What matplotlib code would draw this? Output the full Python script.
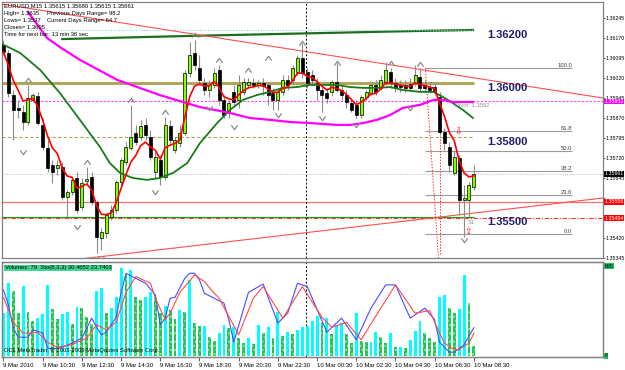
import numpy as np
import pandas as pd
import matplotlib
matplotlib.use("Agg")
import matplotlib.pyplot as plt
from matplotlib.path import Path
from matplotlib.transforms import blended_transform_factory

plt.rcParams['font.family'] = ['Liberation Sans', 'DejaVu Sans']

# EURUSD M15, 9 Mar 08:30 .. 10 Mar 08:30 (97 bars)
opens = [1.36144, 1.36114, 1.35956, 1.35908, 1.35893, 1.35855, 1.35938, 1.35953, 1.35844, 1.35758,
         1.35694, 1.35683, 1.35686, 1.35574, 1.35593, 1.35645, 1.35536, 1.35634, 1.35649, 1.35555,
         1.35420, 1.35439, 1.35499, 1.35525, 1.35630, 1.35705, 1.35758, 1.35814, 1.35799, 1.35844,
         1.35799, 1.35668, 1.35713, 1.35649, 1.35840, 1.35750, 1.35776, 1.35814, 1.36039, 1.36114,
         1.36058, 1.36001, 1.35975, 1.35994, 1.36050, 1.35938, 1.35889, 1.35968, 1.35938, 1.35968,
         1.35994, 1.36001, 1.35994, 1.36001, 1.35994, 1.35964, 1.35938, 1.35968, 1.36013, 1.36013,
         1.36043, 1.36095, 1.36043, 1.36031, 1.36001, 1.35975, 1.35964, 1.35968, 1.36005, 1.35975,
         1.35956, 1.35926, 1.35919, 1.35881, 1.35949, 1.35964, 1.35994, 1.35983, 1.36001, 1.36043,
         1.36001, 1.35994, 1.35994, 1.35998, 1.36001, 1.36024, 1.35994, 1.35986, 1.35986, 1.35949,
         1.35818, 1.35761, 1.35664, 1.35720, 1.35563, 1.35563, 1.35611]
highs = [1.36163, 1.36125, 1.35975, 1.35938, 1.35919, 1.35994, 1.35964, 1.35968, 1.35870, 1.35788,
         1.35713, 1.35713, 1.35705, 1.35600, 1.35645, 1.35668, 1.35645, 1.35686, 1.35668, 1.35563,
         1.35458, 1.35514, 1.35544, 1.35638, 1.35720, 1.35780, 1.35919, 1.35844, 1.35863, 1.35870,
         1.35825, 1.35750, 1.35731, 1.35874, 1.35863, 1.35799, 1.35844, 1.36050, 1.36155, 1.36163,
         1.36106, 1.36020, 1.36013, 1.36058, 1.36069, 1.35956, 1.35938, 1.35994, 1.36031, 1.36020,
         1.36020, 1.36020, 1.36013, 1.36020, 1.36005, 1.35983, 1.35983, 1.36031, 1.36031, 1.36069,
         1.36106, 1.36151, 1.36058, 1.36050, 1.36020, 1.35994, 1.35983, 1.36013, 1.36076, 1.35994,
         1.35975, 1.35945, 1.35938, 1.35956, 1.35975, 1.36001, 1.36013, 1.36031, 1.36080, 1.36058,
         1.36020, 1.36013, 1.36013, 1.36020, 1.36069, 1.36058, 1.36013, 1.36005, 1.36001, 1.35968,
         1.35833, 1.35780, 1.35750, 1.35731, 1.35619, 1.35630, 1.35694]
lows = [1.36106, 1.35949, 1.35788, 1.35870, 1.35825, 1.35844, 1.35930, 1.35844, 1.35750, 1.35668,
        1.35626, 1.35656, 1.35563, 1.35499, 1.35581, 1.35514, 1.35525, 1.35619, 1.35544, 1.35364,
        1.35375, 1.35420, 1.35488, 1.35514, 1.35619, 1.35694, 1.35750, 1.35769, 1.35788, 1.35788,
        1.35713, 1.35645, 1.35619, 1.35638, 1.35769, 1.35739, 1.35761, 1.35806, 1.36024, 1.36050,
        1.35994, 1.35956, 1.35949, 1.35983, 1.35919, 1.35870, 1.35870, 1.35919, 1.35908, 1.35956,
        1.35983, 1.35983, 1.35983, 1.35956, 1.35919, 1.35900, 1.35900, 1.35956, 1.35975, 1.35994,
        1.36031, 1.36020, 1.35983, 1.35994, 1.35938, 1.35893, 1.35926, 1.35953, 1.35968, 1.35938,
        1.35908, 1.35893, 1.35870, 1.35870, 1.35938, 1.35956, 1.35956, 1.35975, 1.35994, 1.35983,
        1.35968, 1.35968, 1.35968, 1.35975, 1.35990, 1.35968, 1.35968, 1.35964, 1.35956, 1.35806,
        1.35750, 1.35668, 1.35656, 1.35506, 1.35424, 1.35499, 1.35600]
closes = [1.36118, 1.35964, 1.35900, 1.35900, 1.35855, 1.35945, 1.35956, 1.35851, 1.35761, 1.35683,
          1.35668, 1.35694, 1.35574, 1.35593, 1.35638, 1.35525, 1.35626, 1.35641, 1.35555, 1.35424,
          1.35443, 1.35506, 1.35525, 1.35630, 1.35713, 1.35761, 1.35799, 1.35780, 1.35840, 1.35806,
          1.35724, 1.35724, 1.35649, 1.35844, 1.35788, 1.35788, 1.35814, 1.36039, 1.36106, 1.36069,
          1.36013, 1.35975, 1.35994, 1.36039, 1.35938, 1.35881, 1.35926, 1.35930, 1.35994, 1.36005,
          1.36005, 1.35994, 1.36001, 1.35990, 1.35956, 1.35938, 1.35968, 1.36013, 1.35994, 1.36058,
          1.36095, 1.36039, 1.36001, 1.36013, 1.35975, 1.35956, 1.35945, 1.36005, 1.35975, 1.35956,
          1.35930, 1.35900, 1.35881, 1.35949, 1.35968, 1.35994, 1.35968, 1.36013, 1.36050, 1.36001,
          1.35986, 1.35986, 1.35983, 1.35983, 1.36031, 1.35983, 1.35983, 1.35975, 1.35968, 1.35818,
          1.35776, 1.35694, 1.35724, 1.35563, 1.35570, 1.35619, 1.35661]
volumes = [334, 561, 502, 330, 543, 337, 273, 296, 324, 548,
           363, 283, 324, 342, 247, 381, 368, 299, 245, 504,
           527, 330, 373, 458, 677, 625, 664, 458, 432, 458,
           496, 445, 330, 386, 355, 286, 355, 337, 587, 252,
           234, 234, 149, 116, 175, 239, 218, 226, 136, 100,
           140, 90, 240, 180, 226, 136, 342, 154, 183, 170,
           200, 226, 234, 273, 309, 252, 290, 170, 230, 257,
           170, 100, 330, 114, 110, 110, 183, 149, 100, 175,
           70, 70, 60, 120, 193, 270, 180, 139, 110, 458,
           471, 373, 330, 360, 625, 407, 79]

# slower moving averages (bar position, price)
green_ma_bars = [-0.7, 3.4, 7.5, 11.5, 15.6, 19.7, 21.7, 23.8, 26.4, 29.3, 31.9, 34.6, 37.5, 40.1,
                 43.6, 46.2, 48.9, 51.7, 54.4, 57.0, 59.9, 62.6, 65.2, 68.1, 70.7, 73.4, 76.2, 78.9,
                 81.5, 85.0, 87.7, 89.7, 91.7, 93.8, 95.8]
green_ma = [1.36151, 1.36114, 1.36050, 1.35964, 1.35863, 1.35761, 1.35701, 1.35664, 1.35645, 1.35638,
            1.35645, 1.35664, 1.35701, 1.35776, 1.35851, 1.35900, 1.35938, 1.35956, 1.35968, 1.35983,
            1.35986, 1.35994, 1.35994, 1.35994, 1.35986, 1.35983, 1.35983, 1.35986, 1.35975, 1.35968,
            1.35968, 1.35949, 1.35926, 1.35900, 1.35870]
magenta_ma_bars = [5.0, 8.9, 11.5, 15.6, 23.2, 31.9, 40.1, 46.2, 50.3, 54.4, 58.5, 62.6, 68.1, 70.7,
                   73.4, 76.2, 78.9, 81.5, 85.0, 87.7, 89.7, 91.7, 95.8]
magenta_ma = [1.36268, 1.36170, 1.36136, 1.36088, 1.36013, 1.35956, 1.35911, 1.35889, 1.35870, 1.35863,
              1.35855, 1.35851, 1.35844, 1.35844, 1.35851, 1.35863, 1.35881, 1.35908, 1.35919, 1.35938,
              1.35938, 1.35930, 1.35930]
daily_line_bars = [12, 38.5, 83.5, 95.8]
daily_line = [1.36166, 1.36178, 1.36196, 1.36200]

# stochastic (8,3,3)
sto_main_bars = [0, 1, 2, 3, 5, 6, 8, 9, 10, 12, 14, 16, 18, 19, 20, 21, 23, 24, 25, 27, 29, 31, 32, 33,
                 34, 35, 37, 38, 39, 40, 41, 43, 45, 46, 47, 50, 53, 56, 58, 60, 62, 66, 69, 72, 75,
                 78, 80, 83, 86, 88, 89, 91, 92, 94, 96]
sto_main = [76, 58, 30, 19, 19, 28, 24, 6, 5, 7, 12, 18, 42, 31, 22, 25, 43, 73, 96, 90, 84, 70, 34, 42,
            66, 67, 90, 96, 96, 88, 72, 66, 60, 40, 13, 73, 83, 36, 48, 84, 80, 25, 42, 16, 54,
            82, 82, 42, 54, 40, 13, 1, 1, 10, 30.47]
sto_sig_bars = [0, 2, 4, 6, 7, 9, 11, 14, 17, 19, 21, 23, 25, 27, 30, 31, 33, 34, 36, 39, 41, 43, 44, 48,
                51, 53, 57, 61, 65, 67, 70, 73, 77, 80, 84, 87, 88, 90, 92, 93, 95, 96]
sto_sig = [67, 37, 24, 24, 25, 13, 7, 10, 18, 34, 28, 37, 73, 92, 84, 66, 40, 48, 73, 94, 86, 72, 66, 22,
           66, 80, 42, 80, 43, 31, 37, 16, 54, 82, 48, 51, 37, 12, 4, 4, 12, 23.74]

# level lines
level_labels = ['1.36200', '1.36000', '1.35800', '1.35500']
level_prices = [1.36200, 1.36000, 1.35800, 1.35500]
pivot = 1.35932
bid = 1.35661
red_level = 1.35556
red_dash_level = 1.35494
fib_high, fib_low = 1.36058, 1.35435
fib_ratios = [0.0, 23.6, 38.2, 50.0, 61.8, 100.0]
upper_trend = ([-0.7, 122.35], [1.36298, 1.35945])
lower_trend = ([14.2, 122.35], [1.35338, 1.35570])
frac_up_bars = [5, 17, 26, 33, 39, 44, 50, 54, 61, 68, 79, 85]
frac_up = [1.36013, 1.35705, 1.35938, 1.35893, 1.36181, 1.36088, 1.36050, 1.36095, 1.36151, 1.36076, 1.36076, 1.36073]
frac_dn_bars = [4, 15, 20, 31, 42, 47, 56, 65, 72, 83, 94]
frac_dn = [1.35742, 1.35461, 1.35345, 1.35593, 1.35908, 1.35836, 1.35881, 1.35870, 1.35844, 1.35908, 1.35413]

price_ticks = [1.36245, 1.36170, 1.36095, 1.36020, 1.35945, 1.35870, 1.35795, 1.35720,
               1.35645, 1.35570, 1.35495, 1.35420, 1.35345]
time_bars = [0, 8, 16, 24, 32, 40, 48, 56, 64, 72, 80, 88, 96]
time_labels = ['9 Mar 2010', '9 Mar 10:30', '9 Mar 12:30', '9 Mar 14:30', '9 Mar 16:30', '9 Mar 18:30',
               '9 Mar 20:30', '9 Mar 22:30', '10 Mar 00:30', '10 Mar 02:30', '10 Mar 04:30',
               '10 Mar 06:30', '10 Mar 08:30']
separator_bar = 62

W, H = 625, 370
def frame(x0, y0, x1, y1):
    return [x0 / W, 1 - y1 / H, (x1 - x0) / W, (y1 - y0) / H]

fig = plt.figure(figsize=(W / 100, H / 100), dpi=100)
ax = fig.add_axes(frame(2, 2, 603, 258))
av = fig.add_axes(frame(2, 262, 603, 357))
xlim = (-0.3, -0.3 + 601 / 4.9)
fs = 4.2       # small MetaTrader-style text
fs_ax = 3.8    # right price scale

bars = np.arange(len(closes))
o, h, l, c = map(np.array, (opens, highs, lows, closes))
up = c >= o

# levels behind the candles
ax.plot(daily_line_bars, daily_line, color='#1e6e1e', lw=1.6, zorder=1)
ax.hlines(level_prices[0], xlim[0], 96, color='#7fd8d8', lw=0.8, linestyle=(0, (1, 1.5)), zorder=1)
ax.hlines(level_prices[1], xlim[0], 96, color='#b2a65e', lw=2.2, zorder=1)
ax.hlines(level_prices[2], xlim[0], 96, color='#b2a65e', lw=0.8, linestyle=(0, (3, 2)), zorder=1)
ax.hlines(level_prices[3], xlim[0], 96, color='#10a010', lw=0.8, zorder=1)
ax.axhline(pivot, color='#ff40ff', lw=0.8, linestyle=(0, (2, 1.5)), zorder=1)
ax.axhline(bid, color='#c8c8dc', lw=0.8, linestyle=(0, (1, 1)), zorder=1)
ax.axhline(red_level, color='#ff7070', lw=0.9, zorder=1)
ax.axhline(red_dash_level, color='#ff3030', lw=0.8, linestyle=(0, (4, 1.5, 1, 1.5)), zorder=1)
ax.plot(*upper_trend, color='#ff5050', lw=0.8, zorder=1)
ax.plot(*lower_trend, color='#ff5050', lw=0.8, zorder=1)

fib_prices = [fib_low + r / 100 * (fib_high - fib_low) for r in fib_ratios]
ax.hlines(fib_prices, 86, 116, color='#9a9a9a', lw=0.8, zorder=1)
for r, p in zip(fib_ratios, fib_prices):
    ax.text(116, p, f'{r:.1f}', fontsize=fs, color='#404040', ha='right', va='bottom')
ax.plot([86.1, 88.8], [fib_high, 1.35338], color='#ff3030', lw=0.7, linestyle=(0, (1.5, 1.5)), zorder=1)
ax.plot([89.1, 89.1], [1.35945, 1.35360], color='#ff3030', lw=0.7, linestyle=(0, (1.5, 1.5)), zorder=1)

for d in (ax, av):
    d.axvline(separator_bar - 0.3, color='black', lw=0.7, linestyle=(0, (2, 2)), zorder=2)

# moving averages
red_ma = pd.Series(closes).ewm(span=5, adjust=False).mean()
ax.plot(green_ma_bars, green_ma, color='#1a7a1a', lw=1.3, zorder=5)
ax.plot(magenta_ma_bars, magenta_ma, color='#ff00ff', lw=1.6, zorder=5)

# candles
ax.vlines(bars, l, h, color='#8c8c8c', lw=0.8, zorder=3)
ax.bar(bars, np.maximum(np.abs(c - o), 0.00002), bottom=np.minimum(o, c), width=0.62,
       color=np.where(up, '#80ff00', 'black'), edgecolor='black', linewidth=0.5, zorder=4)
ax.plot(bars, red_ma, color='red', lw=1.2, zorder=6)

# fractals
chev_up = Path([(-1, -0.7), (0, 0.7), (1, -0.7)], [Path.MOVETO, Path.LINETO, Path.LINETO])
chev_dn = Path([(-1, 0.7), (0, -0.7), (1, 0.7)], [Path.MOVETO, Path.LINETO, Path.LINETO])
ax.plot(frac_up_bars, frac_up, ls='none', marker=chev_up, ms=4.5, mfc='none', mec='#8a8a8a', mew=0.9, zorder=6)
ax.plot(frac_dn_bars, frac_dn, ls='none', marker=chev_dn, ms=4.5, mfc='none', mec='#8a8a8a', mew=0.9, zorder=6)

for lab, p in zip(level_labels, level_prices):
    ax.text(98.8, p, lab, fontsize=8, fontweight='bold', color='#1c1c6c', va='top', zorder=7)
ax.text(92.2, pivot - 0.00005, 'Pivot  1.3592', fontsize=fs, color='#909090', va='top', zorder=7)
ax.text(94.8, red_dash_level - 0.00005, 'S1', fontsize=fs, color='#909090', va='top', zorder=7)
ax.text(92.8, 1.35818, '\u21e9', fontsize=6.5, color='red', ha='center', va='center', family='DejaVu Sans', zorder=7)
ax.text(94.8, 1.35446, '\u21e7', fontsize=6.5, color='red', ha='center', va='center', family='DejaVu Sans', zorder=7)

# volumes + stochastic
vol = np.array(volumes)
vol_up = np.r_[True, vol[1:] >= vol[:-1]]
av.bar(bars[vol_up], vol[vol_up], width=0.6, color='#00ffff', linewidth=0, zorder=3)
av.bar(bars[~vol_up], vol[~vol_up], width=0.6, facecolor='#22c060', edgecolor='#70ff70',
       hatch='....', linewidth=0, zorder=3)
avs = av.twinx()
avs.plot(sto_main_bars, sto_main, color='#4a4aff', lw=0.8)
avs.plot(sto_sig_bars, sto_sig, color='#ff4a4a', lw=0.8)
avs.set_ylim(-4.8, 109.6)
avs.set_yticks([])

for a in (ax, av, avs):
    a.set_xlim(*xlim)
    for s in a.spines.values():
        s.set_color('#808080')
        s.set_linewidth(0.9)

ax.set_ylim(1.35345, 1.36305)
ax.yaxis.tick_right()
hidden = (1.35570, 1.35495)   # covered by the red price boxes
ax.set_yticks(price_ticks, ['' if t in hidden else f'{t:.5f}' for t in price_ticks])
ax.tick_params(axis='y', length=1.5, width=0.6, color='#404040', labelsize=fs_ax, labelcolor='black', pad=0.6)
ax.set_xticks([])

av.set_ylim(-8, 726)
av.set_yticks([])
av.set_xticks(time_bars, time_labels)
av.tick_params(axis='x', length=3, width=0.6, color='#404040', labelsize=4.3, labelcolor='black', pad=1.2)
for t in av.get_xticklabels():
    t.set_ha('left')

# price boxes on the right scale
tr = blended_transform_factory(ax.transAxes, ax.transData)
for p, fc in [(pivot, '#ff00ff'), (bid, 'black'), (red_level, '#ff0000'), (red_dash_level, '#ff0000')]:
    ax.text(1.0025, p, f'{p:.5f}', transform=tr, fontsize=fs_ax, color='white', va='center', ha='left',
            bbox=dict(facecolor=fc, edgecolor='none', pad=0.25), zorder=8, clip_on=False)
trv = blended_transform_factory(av.transAxes, av.transData)
for v in (695, 0):
    av.text(1.0025, v, str(v), transform=trv, fontsize=fs_ax, color='black', va='center', ha='left',
            bbox=dict(facecolor='#20c060', edgecolor='none', pad=0.3), zorder=8, clip_on=False)

# header text
header = [('EURUSD,M15 1.35615 1.35680 1.35615 1.35661', ''),
          ('High= 1.3635', 'Previous Days Range= 98.2'),
          ('Lows= 1.3537', 'Current Days Range= 64.7'),
          ('Closes= 1.3605', ''),
          ('Time for next bar: 13 min 36 sec', '')]
for k, (a_txt, b_txt) in enumerate(header):
    yy = 1 - (6 + 7.2 * k) / H
    fig.text(4 / W, yy, a_txt, fontsize=fs, va='center', color='black')
    if b_txt:
        fig.text(47 / W, yy, b_txt, fontsize=fs, va='center', color='black')

fig.text(5 / W, 1 - 268 / H, 'Volumes: 79  Sto(8,3,3) 30.4652 23.7403', fontsize=fs, va='center',
         color='black', bbox=dict(facecolor='#40d890', edgecolor='none', pad=0.5))
fig.text(4 / W, 1 - 350 / H, 'ODL MetaTrader, \u00a9 2001-2009 MetaQuotes Software Corp.',
         fontsize=fs, va='center', color='black')

fig.savefig('out.png', dpi=100, facecolor='white')
